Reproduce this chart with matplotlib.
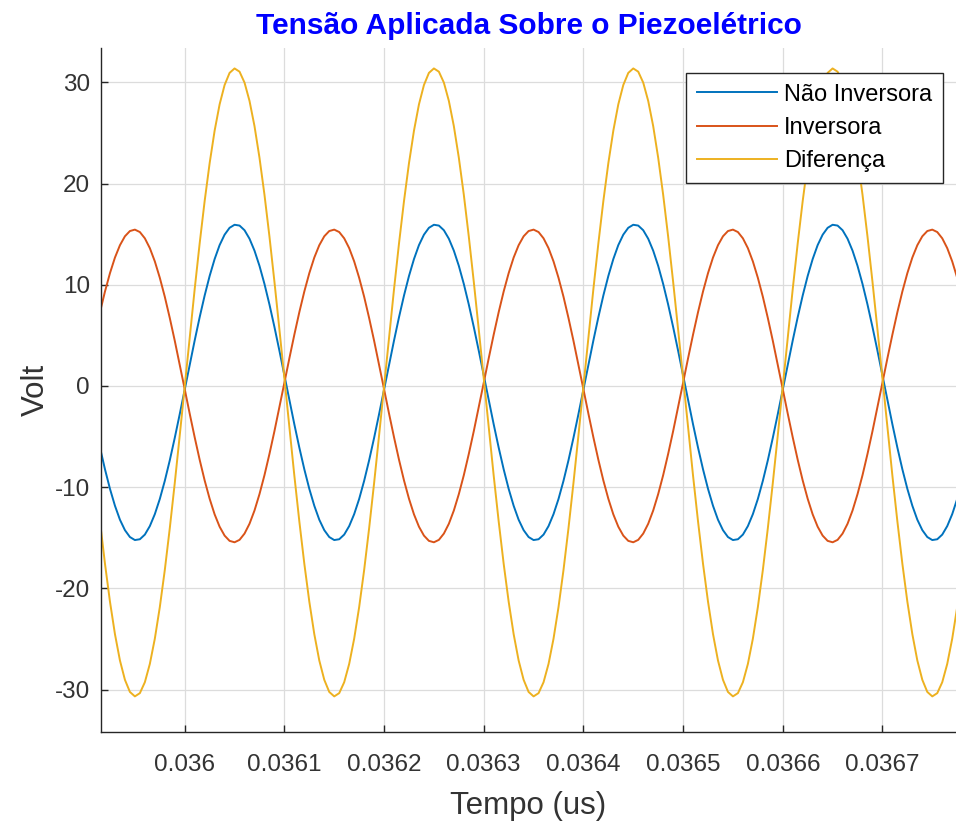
import matplotlib
matplotlib.use("Agg")
import matplotlib.pyplot as plt
import numpy as np

plt.rcParams['font.family'] = ['Liberation Sans', 'DejaVu Sans']
plt.rcParams['axes.unicode_minus'] = False

# sample grid of the signal (us), one sample every 0.000005
t_start = 0.03591
t_step = 0.000005

# values, one row per 10 samples
nao_inversora = [
    -3.80, -6.10, -8.24, -10.17, -11.84, -13.22, -14.25, -14.93, -15.23, -15.15,
    -14.69, -13.85, -12.67, -11.17, -9.38, -7.35, -5.13, -2.78, -0.35, 2.09,
    4.50, 6.80, 8.94, 10.87, 12.54, 13.92, 14.95, 15.63, 15.93, 15.85,
    15.39, 14.55, 13.37, 11.87, 10.08, 8.05, 5.83, 3.48, 1.05, -1.39,
    -3.80, -6.10, -8.24, -10.17, -11.84, -13.22, -14.25, -14.93, -15.23, -15.15,
    -14.69, -13.85, -12.67, -11.17, -9.38, -7.35, -5.13, -2.78, -0.35, 2.09,
    4.50, 6.80, 8.94, 10.87, 12.54, 13.92, 14.95, 15.63, 15.93, 15.85,
    15.39, 14.55, 13.37, 11.87, 10.08, 8.05, 5.83, 3.48, 1.05, -1.39,
    -3.80, -6.10, -8.24, -10.17, -11.84, -13.22, -14.25, -14.93, -15.23, -15.15,
    -14.69, -13.85, -12.67, -11.17, -9.38, -7.35, -5.13, -2.78, -0.35, 2.09,
    4.50, 6.80, 8.94, 10.87, 12.54, 13.92, 14.95, 15.63, 15.93, 15.85,
    15.39, 14.55, 13.37, 11.87, 10.08, 8.05, 5.83, 3.48, 1.05, -1.39,
    -3.80, -6.10, -8.24, -10.17, -11.84, -13.22, -14.25, -14.93, -15.23, -15.15,
    -14.69, -13.85, -12.67, -11.17, -9.38, -7.35, -5.13, -2.78, -0.35, 2.09,
    4.50, 6.80, 8.94, 10.87, 12.54, 13.92, 14.95, 15.63, 15.93, 15.85,
    15.39, 14.55, 13.37, 11.87, 10.08, 8.05, 5.83, 3.48, 1.05, -1.39,
    -3.80, -6.10, -8.24, -10.17, -11.84, -13.22, -14.25, -14.93, -15.23, -15.15,
    -14.69, -13.85, -12.67, -11.17, -9.38,
]

inversora = [
    5.08, 7.30, 9.34, 11.15, 12.69, 13.91, 14.79, 15.31, 15.45, 15.21,
    14.59, 13.62, 12.31, 10.69, 8.82, 6.72, 4.47, 2.10, -0.32, -2.74,
    -5.08, -7.30, -9.34, -11.15, -12.69, -13.91, -14.79, -15.31, -15.45, -15.21,
    -14.59, -13.62, -12.31, -10.69, -8.82, -6.72, -4.47, -2.10, 0.32, 2.74,
    5.08, 7.30, 9.34, 11.15, 12.69, 13.91, 14.79, 15.31, 15.45, 15.21,
    14.59, 13.62, 12.31, 10.69, 8.82, 6.72, 4.47, 2.10, -0.32, -2.74,
    -5.08, -7.30, -9.34, -11.15, -12.69, -13.91, -14.79, -15.31, -15.45, -15.21,
    -14.59, -13.62, -12.31, -10.69, -8.82, -6.72, -4.47, -2.10, 0.32, 2.74,
    5.08, 7.30, 9.34, 11.15, 12.69, 13.91, 14.79, 15.31, 15.45, 15.21,
    14.59, 13.62, 12.31, 10.69, 8.82, 6.72, 4.47, 2.10, -0.32, -2.74,
    -5.08, -7.30, -9.34, -11.15, -12.69, -13.91, -14.79, -15.31, -15.45, -15.21,
    -14.59, -13.62, -12.31, -10.69, -8.82, -6.72, -4.47, -2.10, 0.32, 2.74,
    5.08, 7.30, 9.34, 11.15, 12.69, 13.91, 14.79, 15.31, 15.45, 15.21,
    14.59, 13.62, 12.31, 10.69, 8.82, 6.72, 4.47, 2.10, -0.32, -2.74,
    -5.08, -7.30, -9.34, -11.15, -12.69, -13.91, -14.79, -15.31, -15.45, -15.21,
    -14.59, -13.62, -12.31, -10.69, -8.82, -6.72, -4.47, -2.10, 0.32, 2.74,
    5.08, 7.30, 9.34, 11.15, 12.69, 13.91, 14.79, 15.31, 15.45, 15.21,
    14.59, 13.62, 12.31, 10.69, 8.82,
]

series_names = ['Não Inversora', 'Inversora', 'Diferença']
x_ticks = [0.036, 0.0361, 0.0362, 0.0363, 0.0364, 0.0365, 0.0366, 0.0367]
x_tick_labels = ['0.036', '0.0361', '0.0362', '0.0363', '0.0364', '0.0365', '0.0366', '0.0367']
y_ticks = [-30, -20, -10, 0, 10, 20, 30]

nao_inv = np.array(nao_inversora)
inv = np.array(inversora)
diferenca = nao_inv - inv
tempo = t_start + t_step * np.arange(len(nao_inv))

fig = plt.figure(figsize=(9.56, 8.26), dpi=100)
ax = fig.add_axes([101 / 956, 94 / 826, 855 / 956, 684 / 826])

ax.plot(tempo, nao_inv, color='#0072BD', lw=1.4, label=series_names[0])
ax.plot(tempo, inv, color='#D95319', lw=1.4, label=series_names[1])
ax.plot(tempo, diferenca, color='#EDB120', lw=1.4, label=series_names[2])

ax.set_xlim(0.0359160, 0.0367738)
ax.set_ylim(-34.2, 33.4)
ax.set_xticks(x_ticks)
ax.set_xticklabels(x_tick_labels)
ax.set_yticks(y_ticks)

ax.grid(True, color='#dcdcdc', lw=0.9)
ax.set_axisbelow(True)
for side in ['top', 'right']:
    ax.spines[side].set_visible(False)
for side in ['left', 'bottom']:
    ax.spines[side].set_color('#262626')
    ax.spines[side].set_linewidth(1.0)
ax.tick_params(direction='in', length=5, width=1.0, color='#262626',
               labelcolor='#333333', labelsize=17.5)
ax.tick_params(axis='x', pad=15.5)
ax.tick_params(axis='y', pad=8)

ax.set_xlabel('Tempo (us)', fontsize=22.5, color='#333333', labelpad=11)
ax.set_ylabel('Volt', fontsize=22.5, color='#333333', labelpad=3)
ax.set_title('Tensão Aplicada Sobre o Piezoelétrico', fontsize=21.5,
             fontweight='bold', color='blue', pad=10)

leg = ax.legend(loc='upper right', bbox_to_anchor=(943 / 956, 1 - 73 / 826),
                bbox_transform=fig.transFigure, fontsize=17, handlelength=3.4,
                handletextpad=0.3, labelspacing=0.48, borderpad=0.45,
                borderaxespad=0, fancybox=False, framealpha=1.0)
leg.get_frame().set_edgecolor('#262626')
leg.get_frame().set_linewidth(1.0)

fig.savefig('out.png', dpi=100)
